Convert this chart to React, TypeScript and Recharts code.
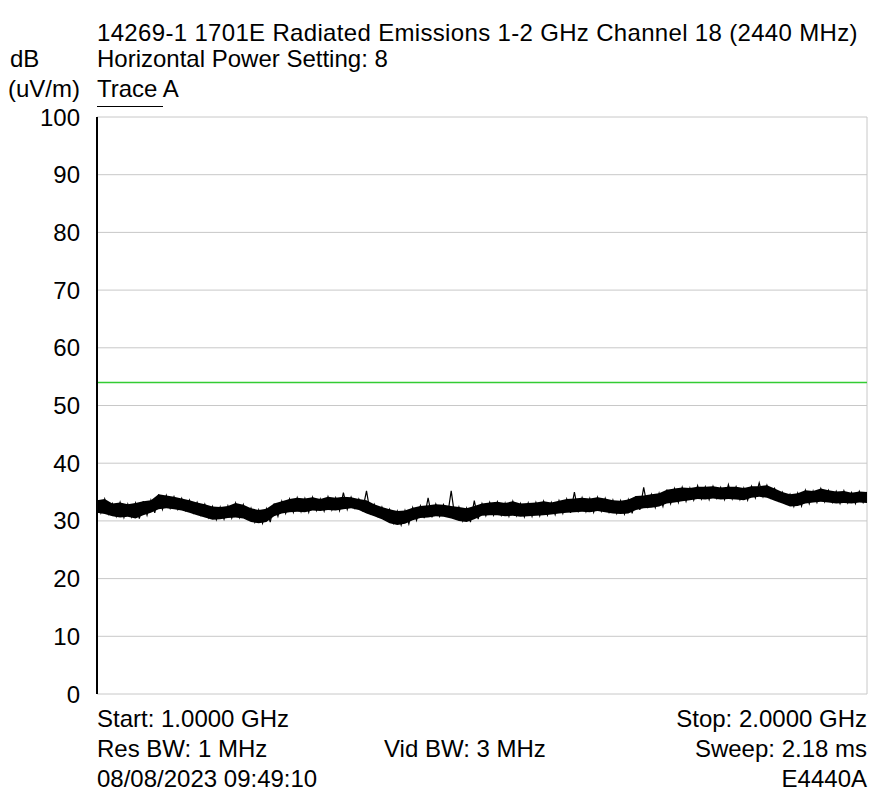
import React from 'react';
import {
  ComposedChart,
  Line,
  Area,
  XAxis,
  YAxis,
  CartesianGrid,
  ReferenceLine,
} from 'recharts';

// frequency grid, GHz (sampled every 10 MHz)
const freqs: number[] = Array.from({ length: 101 }, (_, i) => +(1 + i * 0.01).toFixed(2));

// upper / lower edge of the noisy trace, dB(uV/m)
const traceHigh: number[] = [
  33.6, 33.8, 33.0, 33.2, 32.9, 33.1, 33.4, 33.6, 34.6, 34.4,
  34.2, 33.9, 33.6, 33.2, 32.9, 32.5, 32.4, 32.6, 33.1, 32.8,
  32.2, 31.9, 32.1, 33.0, 33.4, 33.8, 34.0, 33.9, 34.1, 33.8,
  34.2, 34.0, 34.9, 34.1, 33.8, 35.2, 32.9, 32.4, 32.0, 31.7,
  31.8, 32.3, 32.6, 34.0, 32.9, 32.8, 35.2, 32.4, 32.2, 33.5,
  33.0, 33.2, 33.3, 33.1, 33.4, 33.0, 33.1, 33.2, 33.4, 33.2,
  33.5, 33.8, 35.0, 34.0, 33.9, 34.1, 33.9, 33.6, 33.5, 33.7,
  34.3, 35.8, 34.6, 34.8, 35.4, 35.6, 35.8, 35.7, 36.1, 35.9,
  36.0, 35.8, 36.3, 35.9, 35.7, 36.0, 36.6, 36.2, 35.6, 35.0,
  34.6, 34.8, 35.3, 35.2, 35.6, 35.3, 35.1, 35.2, 34.9, 35.1,
  35.0,
];
// top of the dense (solid) part of the trace, without the single spikes
const bodyHigh: number[] = [
  33.6, 33.8, 33.0, 33.2, 32.9, 33.1, 33.4, 33.6, 34.6, 34.4,
  34.2, 33.9, 33.6, 33.2, 32.9, 32.5, 32.4, 32.6, 33.1, 32.8,
  32.2, 31.9, 32.1, 33.0, 33.4, 33.8, 34.0, 33.9, 34.1, 33.8,
  34.2, 34.0, 34.2, 34.1, 33.8, 33.6, 32.9, 32.4, 32.0, 31.7,
  31.8, 32.3, 32.6, 32.7, 32.9, 32.8, 32.6, 32.4, 32.2, 32.6,
  33.0, 33.2, 33.3, 33.1, 33.4, 33.0, 33.1, 33.2, 33.4, 33.2,
  33.5, 33.8, 33.9, 34.0, 33.9, 34.1, 33.9, 33.6, 33.5, 33.7,
  34.3, 34.4, 34.6, 34.8, 35.4, 35.6, 35.8, 35.7, 35.9, 35.9,
  36.0, 35.8, 35.9, 35.9, 35.7, 36.0, 36.0, 36.2, 35.6, 35.0,
  34.6, 34.8, 35.3, 35.2, 35.6, 35.3, 35.1, 35.2, 34.9, 35.1,
  35.0,
];
const traceLow: number[] = [
  31.4, 31.2, 30.8, 30.6, 30.7, 30.4, 31.0, 31.4, 32.0, 32.2,
  32.0, 31.8, 31.4, 31.0, 30.6, 30.2, 30.3, 30.5, 30.6, 30.4,
  29.8, 29.6, 29.8, 30.8, 31.3, 31.5, 31.6, 31.5, 31.8, 31.7,
  31.9, 31.8, 32.0, 32.2, 31.9, 31.3, 30.8, 30.3, 29.6, 29.3,
  29.5, 30.1, 30.5, 30.6, 30.8, 30.7, 30.4, 30.0, 29.8, 30.3,
  30.9, 31.0, 31.0, 30.8, 30.9, 30.7, 30.8, 30.9, 31.0, 31.1,
  31.3, 31.4, 31.5, 31.6, 31.5, 31.7, 31.5, 31.3, 31.2, 31.3,
  31.9, 32.2, 32.3, 32.5, 33.0, 33.2, 33.4, 33.6, 33.8, 33.7,
  33.9, 33.7, 33.8, 33.7, 33.6, 34.0, 34.2, 34.0, 33.5, 33.0,
  32.5, 32.6, 33.0, 33.2, 33.3, 33.2, 33.0, 33.1, 33.0, 33.2,
  33.1,
];

const limitLine = 54;
const yTicks: number[] = [0, 10, 20, 30, 40, 50, 60, 70, 80, 90, 100];
const xTicks: number[] = [1.0, 1.1, 1.2, 1.3, 1.4, 1.5, 1.6, 1.7, 1.8, 1.9, 2.0];

const bandData = freqs.map((f, i) => ({ f, band: [traceLow[i], bodyHigh[i]] }));
// zig-zag between the two edges to get the noisy look
const zigData = freqs
  .flatMap((f, i) => [
    { f, v: traceHigh[i] },
    { f: f + 0.005, v: traceLow[i] },
  ])
  .filter((d) => d.f <= 2.0);

const FONT = '"Liberation Sans", Arial, sans-serif';

const txt = (
  s: string,
  top: number,
  pos: { left?: number; right?: number },
  spacing = 0
) => (
  <div
    style={{
      position: 'absolute',
      top,
      ...pos,
      fontFamily: FONT,
      fontSize: 24,
      lineHeight: '24px',
      letterSpacing: spacing,
      color: '#000',
      whiteSpace: 'nowrap',
    }}
  >
    {s}
  </div>
);

export default function App() {
  return (
    <div
      style={{
        position: 'absolute',
        left: 0,
        top: 0,
        width: 871,
        height: 805,
        background: '#fff',
      }}
    >
      <ComposedChart
        width={871}
        height={805}
        data={bandData}
        margin={{ top: 117, right: 4, bottom: 111, left: 0 }}
      >
        <CartesianGrid stroke="#c8c8c8" strokeWidth={1} />
        <XAxis
          dataKey="f"
          type="number"
          domain={[1, 2]}
          ticks={xTicks}
          tick={false}
          tickLine={false}
          height={0}
          axisLine={{ stroke: '#000', strokeWidth: 2 }}
          allowDataOverflow
        />
        <XAxis
          xAxisId="top"
          orientation="top"
          dataKey="f"
          type="number"
          domain={[1, 2]}
          tick={false}
          tickLine={false}
          height={0}
          axisLine={{ stroke: '#000', strokeWidth: 1.5 }}
        />
        <YAxis
          type="number"
          domain={[0, 100]}
          ticks={yTicks}
          width={97}
          tickSize={0}
          tickMargin={17}
          tickLine={false}
          axisLine={{ stroke: '#000', strokeWidth: 2 }}
          tick={{ fill: '#000', fontSize: 24, fontFamily: FONT }}
        />
        <YAxis
          yAxisId="right"
          orientation="right"
          type="number"
          domain={[0, 100]}
          width={0}
          tick={false}
          tickLine={false}
          axisLine={{ stroke: '#000', strokeWidth: 1.5 }}
        />
        <ReferenceLine y={limitLine} stroke="#33cc33" strokeWidth={1.5} />
        <Area
          dataKey="band"
          stroke="none"
          fill="#000"
          fillOpacity={1}
          isAnimationActive={false}
          type="linear"
        />
        <Line
          data={zigData}
          dataKey="v"
          stroke="#000"
          strokeWidth={1.2}
          dot={false}
          type="linear"
          isAnimationActive={false}
        />
      </ComposedChart>

      {txt('14269-1 1701E Radiated Emissions 1-2 GHz Channel 18 (2440 MHz)', 21, { left: 97 }, 0.33)}
      {txt('dB', 47, { left: 10 })}
      {txt('Horizontal Power Setting: 8', 47, { left: 97 })}
      {txt('(uV/m)', 77, { left: 8 })}
      {txt('Trace A', 77, { left: 97 })}
      <div
        style={{
          position: 'absolute',
          left: 97,
          top: 106,
          width: 66,
          height: 0,
          borderTop: '1px solid #000',
        }}
      />

      {txt('Start: 1.0000 GHz', 707, { left: 97 })}
      {txt('Stop: 2.0000 GHz', 707, { right: 4 })}
      {txt('Res BW: 1 MHz', 737, { left: 97 })}
      {txt('Vid BW: 3 MHz', 737, { left: 384 })}
      {txt('Sweep: 2.18 ms', 737, { right: 4 })}
      {txt('08/08/2023 09:49:10', 767, { left: 97 })}
      {txt('E4440A', 767, { right: 4 })}
    </div>
  );
}
